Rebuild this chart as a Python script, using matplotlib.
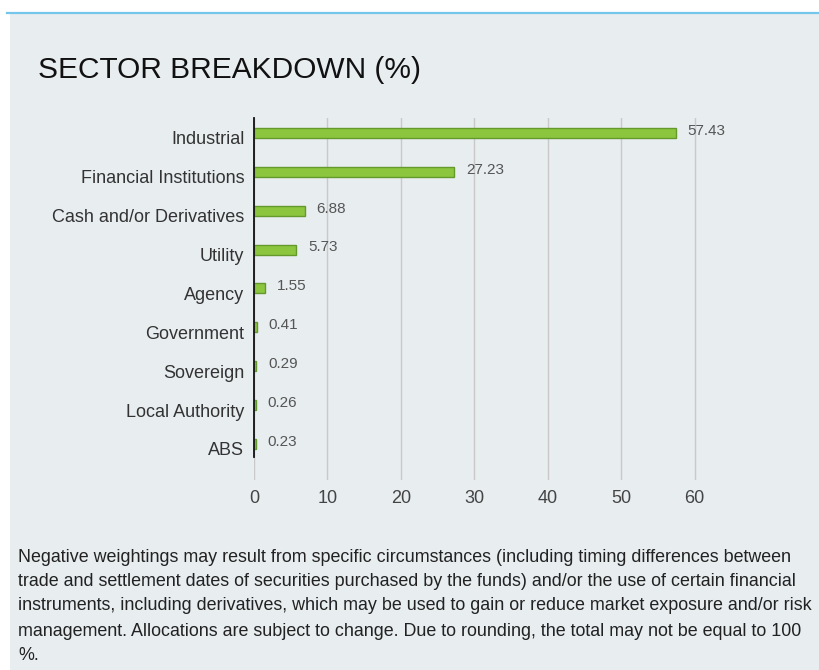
import matplotlib.pyplot as plt
import matplotlib.transforms as mtransforms
from matplotlib.patches import Rectangle
from matplotlib.lines import Line2D

# Sector weights (%)
sectors = [
    "Industrial",
    "Financial Institutions",
    "Cash and/or Derivatives",
    "Utility",
    "Agency",
    "Government",
    "Sovereign",
    "Local Authority",
    "ABS",
]
weights = [57.43, 27.23, 6.88, 5.73, 1.55, 0.41, 0.29, 0.26, 0.23]
x_ticks = [0, 10, 20, 30, 40, 50, 60]

footnote_lines = [
    "Negative weightings may result from specific circumstances (including timing differences between",
    "trade and settlement dates of securities purchased by the funds) and/or the use of certain financial",
    "instruments, including derivatives, which may be used to gain or reduce market exposure and/or risk",
    "management. Allocations are subject to change. Due to rounding, the total may not be equal to 100",
    "%.",
]

PANEL = "#e8edf0"
BAR = "#8cc63f"
BAR_EDGE = "#64992c"
GRID = "#c9c9c9"

plt.rcParams["font.family"] = ["Liberation Sans", "DejaVu Sans"]

W, H = 819, 670
fig = plt.figure(figsize=(W / 100, H / 100), dpi=100)
fig.patch.set_facecolor("white")

# background panel + blue rule on top
fig.patches.append(Rectangle((10 / W, 0), 1, 1 - 14 / H, transform=fig.transFigure,
                             facecolor=PANEL, edgecolor="none", zorder=-2))
fig.lines.append(Line2D([7 / W, 1], [1 - 13 / H, 1 - 13 / H], transform=fig.transFigure,
                        color="#74c6ea", linewidth=1.6, zorder=-1))

fig.text(38 / W, 1 - 70 / H, "SECTOR BREAKDOWN (%)", fontsize=21.5, color="#111111",
         va="center", ha="left")

ax = fig.add_axes([254 / W, 1 - 480 / H, 470 / W, 362 / H])
ax.set_facecolor("none")
ax.set_zorder(2)

y = list(range(len(sectors)))
ax.barh(y, weights, height=0.26, color=BAR, edgecolor=BAR_EDGE, linewidth=1.0, zorder=3)

for yi, v in zip(y, weights):
    ax.annotate(f"{v:.2f}", (v, yi), xytext=(8.5, 1.5), textcoords="offset points",
                fontsize=11, color="#555555", va="center", ha="left", zorder=4)

ax.set_xlim(0, 64)
ax.set_ylim(8.93, -0.386)
ax.set_yticks(y)
ax.set_yticklabels(sectors, fontsize=13, color="#333333")
ax.set_xticks(x_ticks)
ax.set_xticklabels([str(t) for t in x_ticks], fontsize=13, color="#444444")
ax.tick_params(axis="y", length=0, pad=7)
ax.tick_params(axis="x", length=0, pad=7)

# category names sit a little below the bar centres
shift = mtransforms.ScaledTranslation(0, -5 / 100, fig.dpi_scale_trans)
for lbl in ax.get_yticklabels():
    lbl.set_transform(lbl.get_transform() + shift)

ax.grid(axis="x", color=GRID, linewidth=1.0, zorder=1)
ax.set_axisbelow(True)
for side in ["top", "right", "bottom"]:
    ax.spines[side].set_visible(False)
ax.spines["left"].set_color("#111111")
ax.spines["left"].set_linewidth(1.3)
ax.spines["left"].set_bounds(8.33, -0.386)
ax.spines["left"].set_zorder(5)

line_y = [557, 581, 606, 631, 655]
for txt, ly in zip(footnote_lines, line_y):
    fig.text(18 / W, 1 - ly / H, txt, fontsize=12.9, color="#222222",
             va="center", ha="left")

fig.savefig("out.png", dpi=100, facecolor=fig.get_facecolor())
